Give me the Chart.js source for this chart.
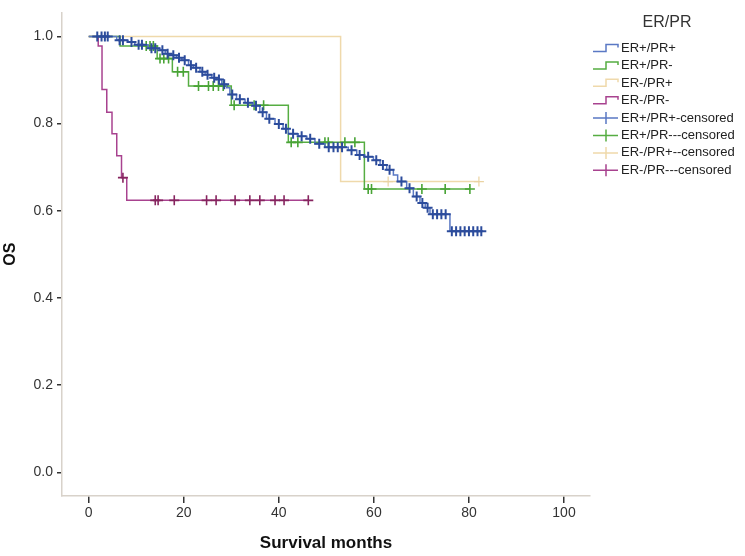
<!DOCTYPE html>
<html>
<head>
<meta charset="utf-8">
<script src="https://cdn.jsdelivr.net/npm/chart.js@4.4.1/dist/chart.umd.min.js"></script>
<style>
  html, body { margin: 0; padding: 0; background: #ffffff; }
  #wrap { width: 745px; height: 556px; }
</style>
</head>
<body>
<div id="wrap"><canvas id="osChart" width="745" height="556"></canvas></div>
<script>
// Kaplan-Meier OS by ER/PR status
const groupNames = ['ER+/PR+', 'ER+/PR-', 'ER-/PR+', 'ER-/PR-'];
const censoredNames = ['ER+/PR+-censored', 'ER+/PR---censored', 'ER-/PR+--censored', 'ER-/PR---censored'];
const legendTitle = 'ER/PR';

// ER+/PR+
const blueTimes = [0, 5.9, 8.3, 9.7, 12.5, 15.0, 16.1, 17.1, 18.5, 19.6, 21.0, 22.0, 23.4, 24.5, 25.9, 26.9,
  28.0, 29.0, 29.7, 31.1, 32.9, 34.6, 36.0, 37.4, 39.2, 40.9, 42.0, 44.1, 45.9, 47.6, 49.7, 54.6, 56.4,
  58.1, 59.9, 61.3, 62.7, 64.1, 65.0, 66.9, 68.3, 69.7, 70.8, 71.8, 76.0, 83.0];
const blueSurv = [1.0, 0.991, 0.987, 0.981, 0.973, 0.968, 0.960, 0.957, 0.951, 0.945, 0.934, 0.928, 0.919, 0.912, 0.905, 0.901,
  0.890, 0.882, 0.867, 0.856, 0.848, 0.841, 0.826, 0.811, 0.799, 0.788, 0.777, 0.771, 0.765, 0.754, 0.746, 0.739, 0.728,
  0.724, 0.716, 0.705, 0.694, 0.682, 0.667, 0.652, 0.633, 0.618, 0.607, 0.592, 0.553, 0.553];
const blueCensored = [1.8, 2.7, 3.4, 4.0, 6.5, 7.2, 9.0, 10.5, 11.2, 13.2, 14.0, 15.5, 16.6, 17.8, 19.0, 20.2,
  21.5, 22.6, 23.9, 25.0, 26.4, 27.4, 28.5, 30.2, 31.8, 33.5, 35.2, 36.6, 38.0, 40.0, 41.5, 43.0, 44.8, 46.6,
  48.5, 50.5, 51.5, 52.4, 53.3, 55.3, 57.0, 58.8, 60.5, 61.9, 63.3, 65.8, 67.5, 69.0, 70.2, 71.3,
  72.4, 73.3, 74.2, 75.1, 76.4, 77.3, 78.2, 79.1, 80.0, 80.9, 81.8, 82.6];

// ER+/PR-
const greenTimes = [0, 6.6, 14.4, 17.6, 21.0, 30.0, 42.0, 58.0, 80.2];
const greenSurv = [1.0, 0.978, 0.949, 0.919, 0.886, 0.842, 0.757, 0.650, 0.650];
const greenCensored = [12.1, 12.9, 13.6, 15.0, 15.8, 16.8, 18.7, 19.9, 23.1, 25.2, 26.2, 27.3, 28.3, 30.6,
  34.8, 36.8, 42.6, 44.0, 49.7, 50.4, 53.9, 56.0, 58.8, 59.5, 70.1, 75.0, 80.2];

// ER-/PR+
const tanTimes = [0, 53.0, 82.1];
const tanSurv = [1.0, 0.667, 0.667];
const tanCensored = [63.0, 82.1];

// ER-/PR-
const purpleTimes = [0, 2.0, 2.8, 3.8, 4.9, 5.9, 6.9, 8.0, 46.2];
const purpleSurv = [1.0, 0.978, 0.878, 0.826, 0.777, 0.726, 0.676, 0.624, 0.624];
const purpleCensored = [7.2, 14.0, 14.6, 18.0, 24.8, 26.8, 30.8, 33.9, 36.0, 39.2, 41.1, 46.2];

const xTicks = [0, 20, 40, 60, 80, 100];
const yTicks = [0.0, 0.2, 0.4, 0.6, 0.8, 1.0];

const FONT = '"Liberation Sans", Arial, sans-serif';

// survival value at time t on a step curve
function survAt(times, surv, t) {
    let s = surv[0];
    for (let i = 0; i < times.length; i++) {
        if (times[i] <= t) s = surv[i];
    }
    return s;
}

function stepData(times, surv) {
    return times.map((t, i) => ({ x: t, y: surv[i] }));
}

function censorData(times, surv, cens) {
    return cens.map(t => ({ x: t, y: survAt(times, surv, t) }));
}

const lineColors = ['#5a78c4', '#56ad42', '#efd9ab', '#a8428f'];
const markColors = ['#2c4c9c', '#49a436', '#ead3a2', '#86245f'];
const markWidths = [2, 1.6, 1.2, 1.6];

const series = [
    [blueTimes, blueSurv, blueCensored],
    [greenTimes, greenSurv, greenCensored],
    [tanTimes, tanSurv, tanCensored],
    [purpleTimes, purpleSurv, purpleCensored]
];

const datasets = [];
series.forEach((s, i) => {
    datasets.push({
        label: censoredNames[i],
        data: censorData(s[0], s[1], s[2]),
        showLine: false,
        pointStyle: 'cross',
        pointRadius: 5,
        pointBorderWidth: markWidths[i],
        pointBorderColor: markColors[i],
        pointBackgroundColor: markColors[i],
        order: i * 2
    });
    datasets.push({
        label: groupNames[i],
        data: stepData(s[0], s[1]),
        showLine: true,
        stepped: true,
        borderColor: lineColors[i],
        borderWidth: 1.5,
        pointRadius: 0,
        fill: false,
        order: i * 2 + 1
    });
});

// legend with step / censor icons, SPSS style
const kmLegend = {
    id: 'kmLegend',
    afterDraw(chart) {
        const ctx = chart.ctx;
        ctx.save();
        ctx.fillStyle = '#333';
        ctx.textBaseline = 'middle';
        ctx.font = '16px ' + FONT;
        ctx.textAlign = 'center';
        ctx.fillText(legendTitle, 667, 23);

        ctx.font = '13px ' + FONT;
        ctx.textAlign = 'left';
        const x0 = 593, xm = 606, x1 = 618;
        const rows = groupNames.concat(censoredNames);
        rows.forEach((name, i) => {
            const y = 48.5 + i * 17.4;
            const c = lineColors[i % 4];
            ctx.strokeStyle = c;
            ctx.lineWidth = 1.5;
            ctx.beginPath();
            if (i < 4) {
                ctx.moveTo(x0, y + 3);
                ctx.lineTo(xm, y + 3);
                ctx.lineTo(xm, y - 4);
                ctx.lineTo(x1, y - 4);
                ctx.lineTo(x1, y - 1);
            } else {
                ctx.moveTo(x0, y);
                ctx.lineTo(x1, y);
                ctx.moveTo(xm, y - 6);
                ctx.lineTo(xm, y + 6);
            }
            ctx.stroke();
            ctx.fillStyle = '#222';
            ctx.fillText(name, 621, y);
        });
        ctx.restore();
    }
};

new Chart(document.getElementById('osChart'), {
    type: 'scatter',
    data: { datasets: datasets },
    plugins: [kmLegend],
    options: {
        responsive: false,
        animation: false,
        events: [],
        layout: { padding: { top: 5, right: 155, left: 0, bottom: 0 } },
        plugins: {
            legend: { display: false },
            tooltip: { enabled: false }
        },
        scales: {
            x: {
                type: 'linear',
                min: -5.62,
                max: 105.47,
                afterBuildTicks: s => { s.ticks = xTicks.map(v => ({ value: v })); },
                afterFit: s => { s.height = 60; },
                grid: { drawOnChartArea: false, drawTicks: true, tickLength: 7, color: '#333', lineWidth: 1.5 },
                border: { display: true, color: '#d8d2ca', width: 1.5 },
                ticks: { font: { family: FONT, size: 14 }, color: '#333', padding: 2, maxRotation: 0 },
                title: {
                    display: true, text: 'Survival months', color: '#111',
                    font: { family: FONT, size: 17, weight: 'bold' },
                    padding: { top: 0, bottom: 2 }
                }
            },
            y: {
                type: 'linear',
                min: -0.054,
                max: 1.055,
                afterBuildTicks: s => { s.ticks = yTicks.map(v => ({ value: v })); },
                afterFit: s => { s.width = 62; },
                grid: { drawOnChartArea: false, drawTicks: true, tickLength: 5, color: '#333', lineWidth: 1.5 },
                border: { display: true, color: '#d8d2ca', width: 1.5 },
                ticks: { font: { family: FONT, size: 14 }, color: '#333', padding: 4, callback: v => v.toFixed(1) },
                title: {
                    display: true, text: 'OS', color: '#111',
                    font: { family: FONT, size: 16, weight: 'bold' },
                    padding: { top: 1, bottom: 0 }
                }
            }
        }
    }
});
</script>
</body>
</html>
